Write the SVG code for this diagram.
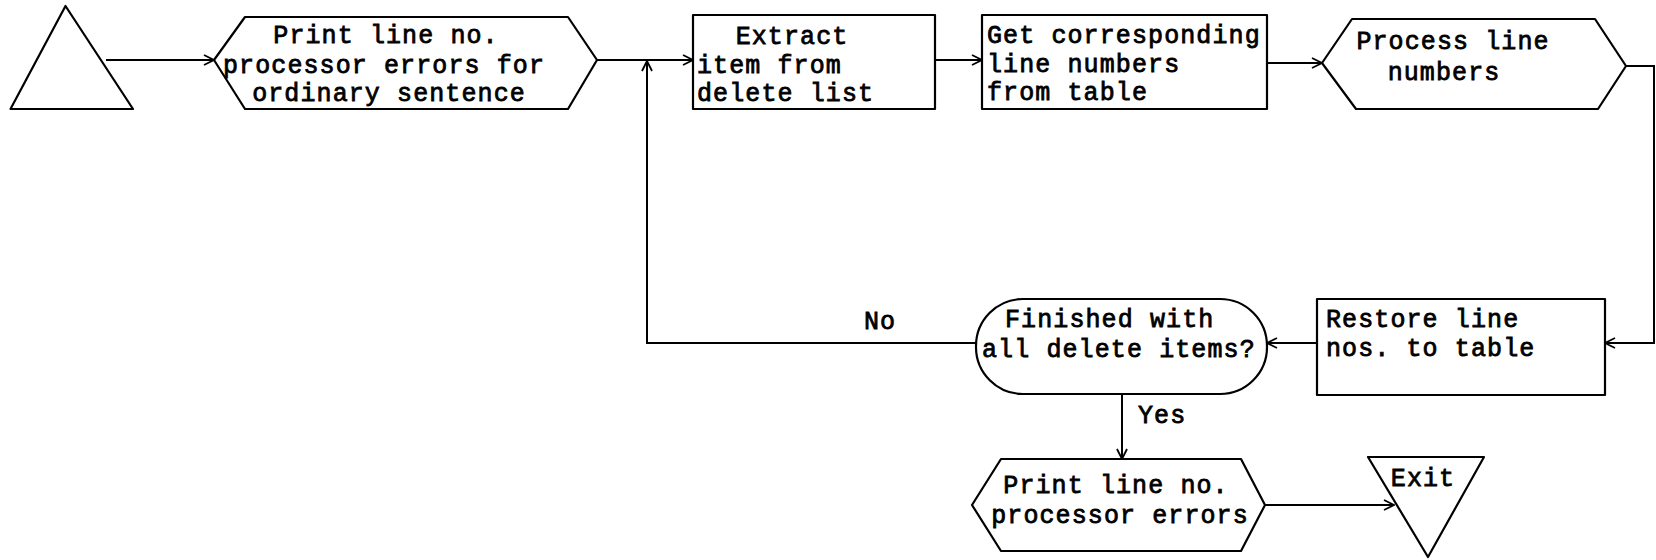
<svg xmlns="http://www.w3.org/2000/svg" width="1656" height="560" viewBox="0 0 1656 560">
<defs>
<marker id="arr" viewBox="0 0 12 12" refX="11" refY="6" markerWidth="12" markerHeight="12" markerUnits="userSpaceOnUse" orient="auto">
<path d="M1,1 L11,6 L1,11" fill="none" stroke="#000" stroke-width="1.8"/>
</marker>
<style>
.s{fill:#fff;stroke:#000;stroke-width:2.2;stroke-linejoin:round}
.c{fill:none;stroke:#000;stroke-width:2}
text{font-family:"Liberation Mono","Courier New",monospace;font-size:25px;letter-spacing:1.1px;fill:#000;stroke:#000;stroke-width:0.8}
.m{text-anchor:middle}
</style>
</defs>
<rect width="1656" height="560" fill="#fff"/>
<g id="connectors">
<path class="c" d="M106,60 H214" marker-end="url(#arr)"/>
<path class="c" d="M597,60 H693" marker-end="url(#arr)"/>
<path class="c" d="M935,60 H982" marker-end="url(#arr)"/>
<path class="c" d="M1267,63 H1322" marker-end="url(#arr)"/>
<path class="c" d="M1626,66 H1654 V343 H1605" marker-end="url(#arr)"/>
<path class="c" d="M1317,343 H1267" marker-end="url(#arr)"/>
<path class="c" d="M976,343 H647 V61" marker-end="url(#arr)"/>
<path class="c" d="M1122,394 V459" marker-end="url(#arr)"/>
<path class="c" d="M1265,505 H1394" marker-end="url(#arr)"/>
<text x="864" y="329">No</text>
<text x="1138" y="423">Yes</text>
</g>
<g id="start">
<path class="s" d="M65.5,6 L133,109 L10.5,109 Z"/>
</g>
<g id="print1">
<path class="s" d="M214,60 L245,17 L568,17 L597,60 L568,109 L245,109 Z"/>
<text class="m" x="386" y="43">Print line no.</text>
<text class="m" x="384" y="73">processor errors for</text>
<text class="m" x="389" y="101">ordinary sentence</text>
</g>
<g id="extract">
<rect class="s" x="693" y="15" width="242" height="94"/>
<text class="m" x="792" y="44">Extract</text>
<text x="697" y="73">item from</text>
<text x="697" y="101">delete list</text>
</g>
<g id="get">
<rect class="s" x="982" y="15" width="285" height="94"/>
<text x="987" y="43">Get corresponding</text>
<text x="987" y="72">line numbers</text>
<text x="987" y="100">from table</text>
</g>
<g id="process">
<path class="s" d="M1322,63 L1352,19 L1595,19 L1626,66 L1598,109 L1356,109 Z"/>
<text class="m" x="1453" y="49">Process line</text>
<text class="m" x="1444" y="80">numbers</text>
</g>
<g id="restore">
<rect class="s" x="1317" y="299" width="288" height="96"/>
<text x="1326" y="327">Restore line</text>
<text x="1326" y="356">nos. to table</text>
</g>
<g id="finished">
<rect class="s" x="976" y="299" width="291" height="95" rx="47" ry="47"/>
<text x="1005" y="327">Finished with</text>
<text x="982" y="357">all delete items?</text>
</g>
<g id="print2">
<path class="s" d="M972,505 L1001,459 L1241,459 L1265,505 L1241,551 L1001,551 Z"/>
<text class="m" x="1116" y="493">Print line no.</text>
<text class="m" x="1120" y="523">processor errors</text>
</g>
<g id="exit">
<path class="s" d="M1368,457 L1484,457 L1428,557 Z"/>
<text class="m" x="1423" y="486">Exit</text>
</g>
</svg>
